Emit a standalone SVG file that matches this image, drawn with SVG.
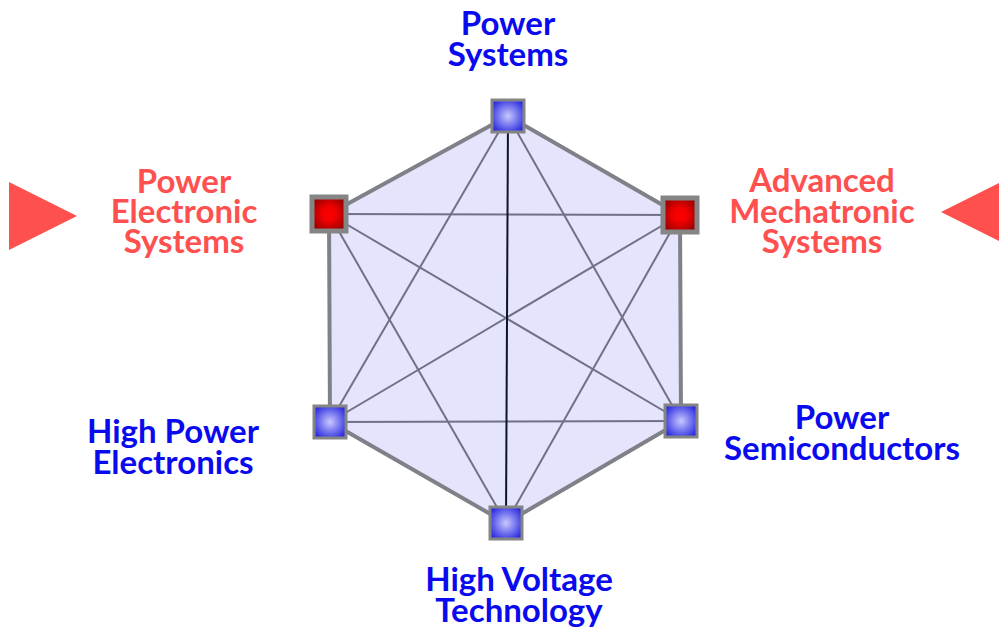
<svg xmlns="http://www.w3.org/2000/svg" width="999" height="633" viewBox="0 0 999 633">
<defs>
<radialGradient id="gBlue" cx="50%" cy="50%" r="60%">
<stop offset="0" stop-color="#c8c8ff"/>
<stop offset="1" stop-color="#2828e0"/>
</radialGradient>
<radialGradient id="gRed" cx="50%" cy="50%" r="60%">
<stop offset="0" stop-color="#ff0000"/>
<stop offset="0.35" stop-color="#f00000"/>
<stop offset="1" stop-color="#900000"/>
</radialGradient>
<style>
.lbl{font-family:Lato,"Open Sans","Liberation Sans",sans-serif;font-weight:bold;font-size:33px;text-anchor:middle}
.blue{fill:#0a0aee}
.red{fill:#ff5050}
.edge{fill:none;stroke:#808088;stroke-width:4;stroke-linejoin:round}
.diag{stroke:#707088;stroke-width:2}
.axis{stroke:#101030;stroke-width:2}
.nb{fill:url(#gBlue);stroke:#858585;stroke-width:3}
.nr{fill:url(#gRed);stroke:#858585;stroke-width:5}
.tri{fill:#ff5050}
</style>
</defs>
<rect width="999" height="633" fill="#ffffff"/>
<polygon points="508,116 680,215 681,421 506,523 330,422 329,214" fill="#e4e4fc"/>
<g id="connectors">
<polygon class="edge" points="508,116 680,215 681,421 506,523 330,422 329,214"/>
<line class="diag" x1="508" y1="116" x2="681" y2="421"/>
<line class="diag" x1="508" y1="116" x2="330" y2="422"/>
<line class="diag" x1="329" y1="214" x2="680" y2="215"/>
<line class="diag" x1="329" y1="214" x2="681" y2="421"/>
<line class="diag" x1="329" y1="214" x2="506" y2="523"/>
<line class="diag" x1="680" y1="215" x2="330" y2="422"/>
<line class="diag" x1="680" y1="215" x2="506" y2="523"/>
<line class="diag" x1="330" y1="422" x2="681" y2="421"/>
<line class="axis" x1="508" y1="116" x2="506" y2="523"/>
</g>
<g id="node-power-systems">
<rect class="nb" x="492" y="100" width="32" height="32"/>
<text class="lbl blue" x="508" y="35">Power</text>
<text class="lbl blue" x="508" y="66">Systems</text>
</g>
<g id="node-advanced-mechatronic">
<rect class="nr" x="663" y="198" width="34" height="34"/>
<text class="lbl red" x="822" y="192">Advanced</text>
<text class="lbl red" x="822" y="223">Mechatronic</text>
<text class="lbl red" x="822" y="253">Systems</text>
</g>
<g id="node-power-semiconductors">
<rect class="nb" x="665" y="405" width="32" height="32"/>
<text class="lbl blue" x="842" y="429">Power</text>
<text class="lbl blue" x="842" y="460">Semiconductors</text>
</g>
<g id="node-high-voltage">
<rect class="nb" x="490" y="507" width="32" height="32"/>
<text class="lbl blue" x="519" y="591">High Voltage</text>
<text class="lbl blue" x="519" y="622">Technology</text>
</g>
<g id="node-high-power-electronics">
<rect class="nb" x="314" y="406" width="32" height="32"/>
<text class="lbl blue" x="173" y="443">High Power</text>
<text class="lbl blue" x="173" y="474">Electronics</text>
</g>
<g id="node-power-electronic-systems">
<rect class="nr" x="312" y="197" width="34" height="34"/>
<text class="lbl red" x="184" y="193">Power</text>
<text class="lbl red" x="184" y="223">Electronic</text>
<text class="lbl red" x="184" y="253">Systems</text>
</g>
<g id="markers">
<polygon class="tri" points="9,182 77,216 9,250"/>
<polygon class="tri" points="941,212 1009,178 1009,246"/>
</g>
</svg>
